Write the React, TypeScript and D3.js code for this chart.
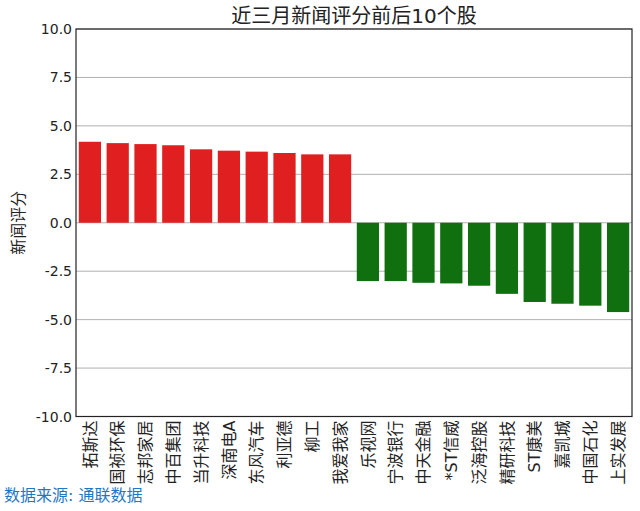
import React from "react";
import * as d3 from "d3";

const categories = ["拓斯达","国祯环保","志邦家居","中百集团","当升科技","深南电A","东风汽车","利亚德","柳工","我爱我家","乐视网","宁波银行","中天金融","*ST信威","泛海控股","精研科技","ST康美","嘉凯城","中国石化","上实发展"];
const values = [4.18,4.11,4.06,4.0,3.79,3.72,3.67,3.6,3.53,3.53,-3.01,-3.01,-3.1,-3.13,-3.25,-3.67,-4.09,-4.18,-4.28,-4.61];
const yTicks = [-10,-7.5,-5,-2.5,0,2.5,5,7.5,10];
const title = "近三月新闻评分前后10个股";
const yLabel = "新闻评分";
const source = "数据来源: 通联数据";

const W = 640, H = 511;
const m = { left: 76, right: 632, top: 29, bottom: 416.5 };
const FONT = "'DejaVu Sans', 'Noto Sans CJK SC', sans-serif";

export default function App() {
  const x = d3.scaleBand<string>().domain(categories).range([m.left, m.right]).paddingInner(0.2).paddingOuter(0.1);
  const y = d3.scaleLinear().domain([-10, 10]).range([m.bottom, m.top]);
  return (
    <svg width={W} height={H} style={{ position: "absolute", left: 0, top: 0 }} fontFamily={FONT}>
      <rect width={W} height={H} fill="#fff" />
      {yTicks.map((t) => (
        <g key={t}>
          <line x1={m.left} x2={m.right} y1={y(t)} y2={y(t)} stroke="#b0b0b0" strokeWidth={1} />
          <text x={m.left - 4} y={y(t)} dy="0.36em" textAnchor="end" fontSize={14} fill="#222">{t.toFixed(1)}</text>
        </g>
      ))}
      {categories.map((c, i) => {
        const v = values[i];
        return (
          <rect key={c} x={x(c)} width={x.bandwidth()} y={y(Math.max(0, v))} height={Math.abs(y(v) - y(0))}
            fill={v >= 0 ? "#e02020" : "#107010"} />
        );
      })}
      <rect x={m.left} y={m.top} width={m.right - m.left} height={m.bottom - m.top} fill="none" stroke="#222" strokeWidth={1.2} />
      {categories.map((c) => {
        const cx = x(c)! + x.bandwidth() / 2;
        return (
          <text key={c} transform={`translate(${cx},${m.bottom + 4}) rotate(-90)`} textAnchor="end" dy="0.36em" fontSize={16} fill="#222">{c}</text>
        );
      })}
      <text x={(m.left + m.right) / 2} y={23} textAnchor="middle" fontSize={20} fill="#222">{title}</text>
      <text transform={`translate(24,${y(0)}) rotate(-90)`} textAnchor="middle" fontSize={16} fill="#222">{yLabel}</text>
      <text x={4} y={501} fontSize={16} fill="#1f77c4">{source}</text>
    </svg>
  );
}
